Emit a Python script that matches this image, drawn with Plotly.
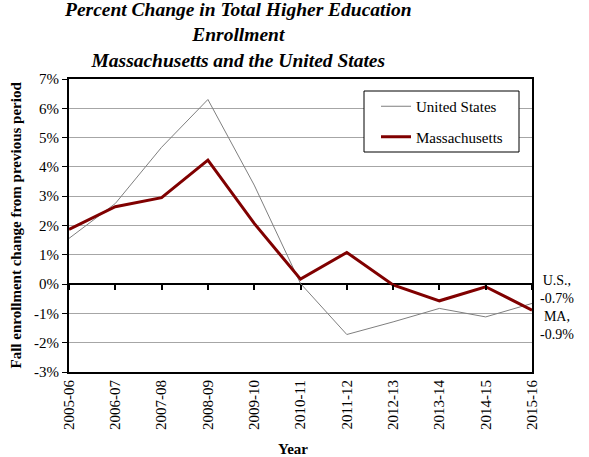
import plotly.graph_objects as go

years = ["2005-06", "2006-07", "2007-08", "2008-09", "2009-10", "2010-11",
         "2011-12", "2012-13", "2013-14", "2014-15", "2015-16"]
us = [1.56, 2.75, 4.67, 6.30, 3.38, 0.02, -1.72, -1.29, -0.83, -1.12, -0.66]
ma = [1.87, 2.64, 2.95, 4.23, 2.07, 0.17, 1.08, -0.03, -0.57, -0.09, -0.89]
y_ticks = [-3, -2, -1, 0, 1, 2, 3, 4, 5, 6, 7]
y_ticklabels = [f"{v}%" for v in y_ticks]

FONT = "Liberation Serif, Times New Roman, serif"
L, R, T, B = 69, 57, 79, 85
W, H = 589, 457
PW, PH = W - L - R, H - T - B

def px_x(p):
    return (p - L) / PW

def px_y(p):
    return (H - B - p) / PH

fig = go.Figure()
fig.add_trace(go.Scatter(x=years, y=us, mode="lines", name="United States",
                         legendgroup="us", line=dict(color="#7f7f7f", width=1)))
fig.add_trace(go.Scatter(x=years, y=ma, mode="lines", name="Massachusetts",
                         legendgroup="ma", line=dict(color="#800000", width=3)))
# invisible trace carrying the zero-line tick axis
fig.add_trace(go.Scatter(x=years, y=ma, mode="lines", xaxis="x2", showlegend=False,
                         hoverinfo="skip", line=dict(width=0), opacity=0))

fig.update_layout(
    width=W, height=H,
    margin=dict(l=L, r=R, t=T, b=B, autoexpand=False),
    paper_bgcolor="white", plot_bgcolor="white",
    font=dict(family=FONT, size=15, color="black"),
    xaxis=dict(type="category", range=[0, len(years) - 1],
               tickvals=years, ticktext=years, tickangle=-90,
               showgrid=False, showline=True, mirror=True, linecolor="black", linewidth=2,
               ticks="", tickfont=dict(family=FONT, size=15), automargin=False),
    xaxis2=dict(type="category", range=[0, len(years) - 1], overlaying="x", anchor="free",
                position=0.3, showline=False, showgrid=False, showticklabels=False,
                ticks="outside", ticklen=5, tickcolor="black", tickwidth=2,
                tickvals=years),
    yaxis=dict(range=[-3, 7], tickvals=y_ticks, ticktext=y_ticklabels,
               showgrid=True, gridcolor="#a6a6a6", gridwidth=1,
               zeroline=True, zerolinecolor="black", zerolinewidth=2,
               showline=True, mirror=True, linecolor="black", linewidth=2,
               ticks="outside", ticklen=5, tickcolor="black", tickwidth=1,
               tickfont=dict(family=FONT, size=15), automargin=False),
    legend=dict(x=px_x(376), y=px_y(90), xanchor="left", yanchor="top",
                bgcolor="rgba(0,0,0,0)", borderwidth=0,
                font=dict(family=FONT, size=15), itemwidth=30,
                traceorder="grouped", tracegroupgap=8),
    showlegend=True,
)

# legend frame
fig.add_shape(type="rect", xref="paper", yref="paper",
              x0=px_x(364), x1=px_x(519), y0=px_y(152), y1=px_y(91),
              fillcolor="white", line=dict(color="black", width=1), layer="above")

# title
fig.add_annotation(x=px_x(238), xref="paper", xanchor="center", y=1, yref="paper",
                   yanchor="bottom", yshift=6, showarrow=False, align="center",
                   text="<b><i>Percent Change in Total Higher Education<br>Enrollment<br>Massachusetts and the United States</i></b>",
                   font=dict(family=FONT, size=19.5))

# axis titles
fig.add_annotation(x=px_x(293), xref="paper", xanchor="center", y=px_y(449), yref="paper",
                   yanchor="middle", showarrow=False, text="<b>Year</b>",
                   font=dict(family=FONT, size=15))
fig.add_annotation(x=px_x(15), xref="paper", xanchor="center", y=0.5, yref="paper",
                   yanchor="middle", showarrow=False, textangle=-90,
                   text="<b>Fall enrollment change from previous period</b>",
                   font=dict(family=FONT, size=15))

fig.add_annotation(x=1, xref="paper", xanchor="left", xshift=6, y=us[-1], yref="y",
                   yshift=14, text="U.S.,<br>-0.7%", showarrow=False, align="center",
                   font=dict(family=FONT, size=14))
fig.add_annotation(x=1, xref="paper", xanchor="left", xshift=6, y=ma[-1], yref="y",
                   yshift=-15, text="MA,<br>-0.9%", showarrow=False, align="center",
                   font=dict(family=FONT, size=14))

fig.write_html("out.html", config={"displayModeBar": False},
               post_script="document.body.style.margin='0';document.body.style.padding='0';")
